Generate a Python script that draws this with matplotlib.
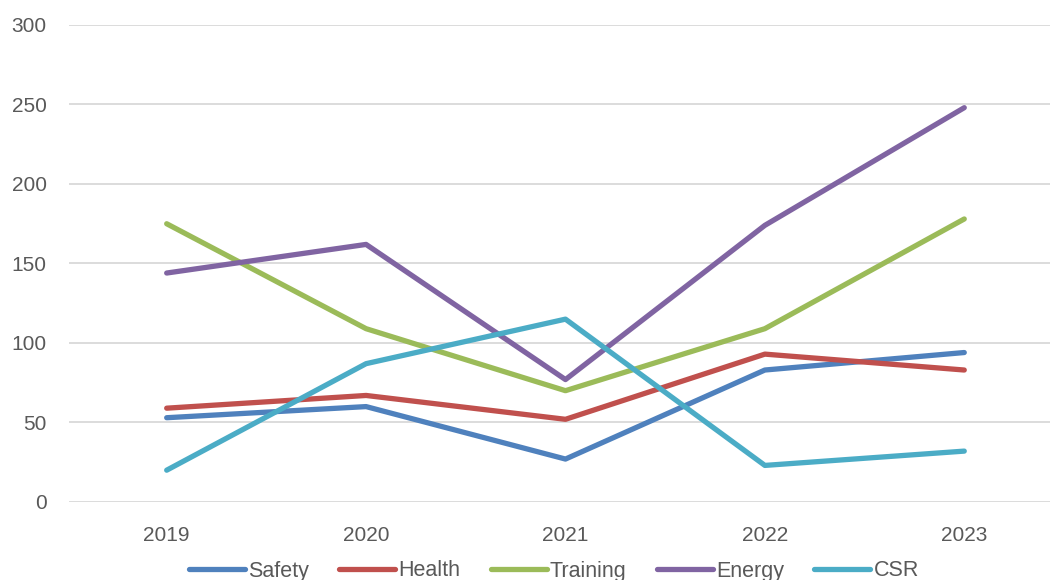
import numpy as np
import matplotlib
matplotlib.use("Agg")
from matplotlib import pyplot as plt

years = ["2019", "2020", "2021", "2022", "2023"]
safety = [53, 60, 27, 83, 94]
health = [59, 67, 52, 93, 83]
training = [175, 109, 70, 109, 178]
energy = [144, 162, 77, 174, 248]
csr = [20, 87, 115, 23, 32]

series = [("Safety", safety, "#4F81BD"),
          ("Health", health, "#C0504D"),
          ("Training", training, "#9BBB59"),
          ("Energy", energy, "#8064A2"),
          ("CSR", csr, "#4BACC6")]

plt.rcParams['font.family'] = ['Liberation Sans', 'DejaVu Sans']

fig = plt.figure(figsize=(10.5, 5.8), dpi=100)
ax = fig.add_axes([0.0657, 0.1345, 0.9343, 0.8224])

x = np.arange(len(years))
for name, vals, col in series:
    ax.plot(x, vals, color=col, lw=3.8, label=name, solid_capstyle='round', solid_joinstyle='round')

ax.set_ylim(0, 300)
ax.set_yticks(np.arange(0, 301, 50))
ax.set_xlim(-0.49, 4.43)
ax.set_xticks(x)
ax.set_xticklabels(years)
ax.grid(axis='y', color='#D9D9D9', lw=1.3)
ax.set_axisbelow(True)
for s in ax.spines.values():
    s.set_visible(False)
ax.tick_params(length=0, labelsize=15, colors='#595959')
ax.tick_params(axis='x', pad=17)
ax.tick_params(axis='y', pad=16)

fig.legend(loc='center', bbox_to_anchor=(554 / 1050, 1 - 571 / 580), ncol=5,
           frameon=False, fontsize=15.5, handlelength=2.6, handletextpad=0.15,
           columnspacing=1.4, labelcolor='#595959')

fig.savefig("out.png", dpi=100)
